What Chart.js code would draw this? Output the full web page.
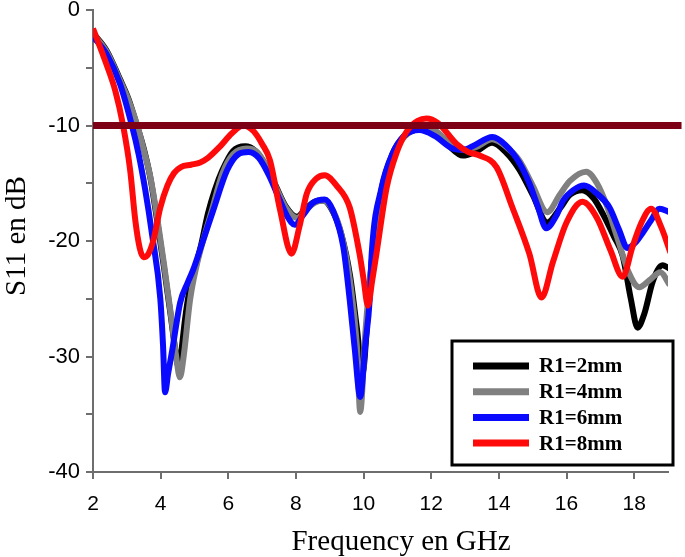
<!DOCTYPE html>
<html>
<head>
<meta charset="utf-8">
<script src="https://cdn.jsdelivr.net/npm/chart.js@4.4.1/dist/chart.umd.min.js"></script>
<style>
  html, body { margin: 0; padding: 0; background: #ffffff; }
  #wrap { width: 685px; height: 557px; }
</style>
</head>
<body>
<div id="wrap"><canvas id="c" width="685" height="557"></canvas></div>
<script>
// ---- Data ----
const seriesLabels = ['R1=2mm', 'R1=4mm', 'R1=6mm', 'R1=8mm'];

const freqR2 = [2.0, 2.4, 2.8, 3.05, 3.3, 3.5, 3.7, 3.9, 4.1, 4.3, 4.45, 4.52, 4.6, 4.72, 4.85, 5.02, 5.2, 5.4, 5.6, 5.82, 6.14, 6.5, 6.8, 7.1, 7.4, 7.7, 8.03, 8.3, 8.55, 8.8, 9.1, 9.35, 9.6, 9.8, 9.97, 10.12, 10.25, 10.5, 10.85, 11.2, 11.5, 11.75, 12.1, 12.5, 12.93, 13.3, 13.8, 14.2, 14.6, 15.0, 15.43, 15.8, 16.1, 16.46, 16.8, 17.1, 17.4, 17.66, 17.9, 18.1, 18.3, 18.55, 18.84, 19.05];
const s11R2  = [-2.0, -3.5, -6.0, -7.7, -10.0, -12.0, -14.6, -18.3, -22.3, -26.5, -29.8, -30.8, -29.8, -26.8, -24.3, -22.4, -20.3, -17.6, -15.6, -13.9, -12.2, -11.8, -12.2, -13.4, -15.2, -17.0, -17.9, -17.2, -16.6, -16.5, -17.5, -19.5, -23.0, -27.5, -31.4, -26.5, -21.5, -16.0, -12.5, -10.9, -10.4, -10.2, -10.6, -11.7, -12.6, -12.3, -11.5, -12.3, -13.8, -16.0, -18.4, -17.2, -16.0, -15.6, -16.3, -17.8, -19.6, -21.3, -25.0, -27.5, -26.3, -23.5, -22.1, -22.4];

const freqR4 = [2.0, 2.4, 2.8, 3.05, 3.32, 3.5, 3.7, 3.9, 4.1, 4.3, 4.45, 4.57, 4.68, 4.87, 5.05, 5.3, 5.5, 5.82, 6.14, 6.55, 6.85, 7.1, 7.4, 7.7, 8.03, 8.3, 8.55, 8.8, 9.1, 9.35, 9.6, 9.8, 9.9, 10.05, 10.25, 10.5, 10.85, 11.2, 11.5, 11.75, 12.1, 12.5, 12.9, 13.3, 13.8, 14.2, 14.6, 15.0, 15.43, 15.8, 16.1, 16.58, 16.9, 17.2, 17.5, 17.85, 18.15, 18.45, 18.77, 19.05];
const s11R4  = [-2.1, -3.6, -6.1, -7.8, -10.1, -12.1, -14.5, -18.0, -22.0, -26.3, -29.8, -31.8, -30.0, -25.1, -22.3, -19.5, -17.5, -14.2, -12.5, -12.0, -12.3, -13.4, -15.3, -17.1, -18.0, -17.3, -16.7, -16.5, -17.4, -19.5, -23.5, -29.0, -34.8, -28.0, -21.5, -16.0, -12.6, -11.0, -10.3, -10.0, -10.4, -11.4, -12.1, -11.9, -11.2, -11.8, -13.0, -15.2, -17.5, -16.0, -14.8, -14.0, -15.0, -17.0, -19.7, -22.8, -24.0, -23.4, -22.7, -23.8];

const freqR6 = [2.0, 2.4, 2.8, 3.15, 3.35, 3.54, 3.75, 3.99, 4.07, 4.13, 4.22, 4.34, 4.58, 4.8, 4.96, 5.25, 5.56, 5.96, 6.29, 6.6, 6.9, 7.2, 7.5, 7.75, 7.97, 8.2, 8.5, 8.85, 9.1, 9.4, 9.59, 9.74, 9.9, 10.05, 10.18, 10.24, 10.53, 10.86, 11.2, 11.65, 12.1, 12.64, 12.95, 13.22, 13.81, 14.2, 14.6, 14.9, 15.15, 15.4, 15.7, 15.9, 16.2, 16.52, 16.9, 17.27, 17.55, 17.8, 18.05, 18.25, 18.5, 18.75, 19.05];
const s11R6  = [-2.3, -3.8, -6.4, -10.0, -12.5, -15.5, -19.5, -25.0, -29.0, -33.1, -31.5, -29.5, -25.3, -23.6, -22.5, -20.0, -17.3, -13.9, -12.5, -12.3, -12.8, -14.3, -16.3, -17.9, -18.6, -17.8, -16.7, -16.4, -17.4, -20.5, -25.1, -29.4, -33.5, -29.0, -25.1, -21.1, -15.4, -12.4, -10.9, -10.4, -10.9, -12.0, -12.1, -11.8, -11.0, -11.7, -13.2, -15.0, -17.0, -18.9, -17.8, -16.5, -15.6, -15.2, -15.9, -17.1, -19.0, -20.6, -20.1, -19.3, -18.2, -17.2, -17.5];

const freqR8 = [2.0, 2.36, 2.66, 2.89, 3.1, 3.25, 3.38, 3.49, 3.62, 3.78, 3.99, 4.2, 4.4, 4.6, 4.9, 5.17, 5.4, 5.76, 6.1, 6.44, 6.75, 7.0, 7.23, 7.53, 7.87, 8.1, 8.32, 8.6, 8.85, 9.2, 9.59, 9.88, 10.0, 10.13, 10.25, 10.38, 10.68, 10.97, 11.3, 11.6, 11.86, 12.2, 12.75, 13.1, 13.43, 13.93, 14.4, 14.9, 15.26, 15.6, 16.0, 16.47, 16.9, 17.3, 17.66, 17.95, 18.2, 18.5, 18.8, 19.07];
const s11R8  = [-1.6, -4.4, -7.0, -10.0, -13.9, -18.2, -20.6, -21.4, -21.2, -20.0, -17.1, -15.2, -14.1, -13.6, -13.4, -13.2, -12.8, -11.8, -10.7, -10.0, -10.5, -11.6, -13.0, -17.3, -21.1, -18.8, -15.9, -14.6, -14.3, -15.2, -17.1, -21.1, -23.3, -25.6, -23.5, -21.1, -15.4, -12.4, -10.4, -9.6, -9.4, -9.8, -11.6, -12.3, -12.6, -13.6, -17.1, -21.1, -24.9, -21.8, -18.4, -16.6, -18.0, -20.8, -23.1, -20.5, -18.5, -17.2, -18.8, -21.0];

const thresholdFreq = [2, 19.4];
const thresholdS11 = [-10, -10];

const xTickValues = [2, 4, 6, 8, 10, 12, 14, 16, 18];
const yTickValues = [-40, -35, -30, -25, -20, -15, -10, -5, 0];
const yLabelValues = [0, -10, -20, -30, -40];

const xTitle = 'Frequency en GHz';
const yTitle = 'S11 en dB';

// ---- Build chart ----
const pts = (xs, ys) => xs.map((x, i) => ({ x: x, y: ys[i] }));
const colors = ['#000000', '#808080', '#0a0aff', '#ff0a0a'];
const serifFont = '"Liberation Serif", "Times New Roman", serif';

function curve(label, xs, ys, color, order) {
  return {
    label: label,
    data: pts(xs, ys),
    borderColor: color,
    backgroundColor: color,
    borderWidth: 6,
    pointRadius: 0,
    cubicInterpolationMode: 'monotone',
    fill: false,
    order: order
  };
}

const titlePlugin = {
  id: 'axisTitles',
  afterDraw(chart) {
    const ctx = chart.ctx;
    ctx.save();
    ctx.fillStyle = '#000000';
    ctx.font = '29px ' + serifFont;
    ctx.textAlign = 'center';
    ctx.textBaseline = 'alphabetic';
    ctx.fillText(xTitle, 401, 550);
    ctx.translate(25, 236);
    ctx.rotate(-Math.PI / 2);
    ctx.fillText(yTitle, 0, 0);
    ctx.restore();
  }
};

const legendPlugin = {
  id: 'boxLegend',
  afterDraw(chart) {
    const ctx = chart.ctx;
    const items = chart.data.datasets.filter(d => seriesLabels.includes(d.label));
    const bx = 452, by = 341, bw = 221, bh = 124;
    ctx.save();
    ctx.fillStyle = '#ffffff';
    ctx.fillRect(bx, by, bw, bh);
    ctx.strokeStyle = '#000000';
    ctx.lineWidth = 3;
    ctx.strokeRect(bx, by, bw, bh);
    ctx.font = 'bold 21px ' + serifFont;
    ctx.textBaseline = 'middle';
    ctx.textAlign = 'left';
    items.forEach((d, i) => {
      const y = 366 + i * 25.7;
      ctx.strokeStyle = d.borderColor;
      ctx.lineWidth = 7;
      ctx.lineCap = 'butt';
      ctx.beginPath();
      ctx.moveTo(473, y);
      ctx.lineTo(529, y);
      ctx.stroke();
      ctx.fillStyle = '#000000';
      ctx.fillText(d.label, 539, y + 1);
    });
    ctx.restore();
  }
};

const chart = new Chart(document.getElementById('c'), {
  type: 'line',
  data: {
    datasets: [
      curve(seriesLabels[0], freqR2, s11R2, colors[0], 4),
      curve(seriesLabels[1], freqR4, s11R4, colors[1], 3),
      curve(seriesLabels[2], freqR6, s11R6, colors[2], 2),
      curve(seriesLabels[3], freqR8, s11R8, colors[3], 1),
      {
        label: '-10 dB',
        data: pts(thresholdFreq, thresholdS11),
        borderColor: '#7d0014',
        borderWidth: 7,
        pointRadius: 0,
        fill: false,
        clip: false,
        order: 0
      }
    ]
  },
  options: {
    responsive: false,
    devicePixelRatio: 1,
    animation: false,
    layout: { padding: { top: 10, right: 17, left: 0, bottom: 0 } },
    plugins: { legend: { display: false }, tooltip: { enabled: false } },
    scales: {
      x: {
        type: 'linear',
        min: 2,
        max: 19,
        afterBuildTicks: s => { s.ticks = xTickValues.map(v => ({ value: v })); },
        afterFit: s => { s.height = 85; s.paddingLeft = 0; s.paddingRight = 0; },
        grid: { drawOnChartArea: false, drawTicks: true, tickLength: 7, color: '#6e6e6e', lineWidth: 2 },
        border: { display: true, color: '#6e6e6e', width: 2 },
        ticks: {
          color: '#000000',
          padding: 13,
          maxRotation: 0,
          autoSkip: false,
          font: { family: '"Liberation Sans", Arial, sans-serif', size: 21 }
        },
        title: { display: false, text: xTitle }
      },
      y: {
        type: 'linear',
        min: -40,
        max: 0,
        afterBuildTicks: s => { s.ticks = yTickValues.map(v => ({ value: v })); },
        afterFit: s => { s.width = 93; s.paddingTop = 0; s.paddingBottom = 0; },
        grid: { drawOnChartArea: false, drawTicks: true, tickLength: 7, color: '#6e6e6e', lineWidth: 2 },
        border: { display: true, color: '#6e6e6e', width: 2 },
        ticks: {
          color: '#000000',
          padding: 6,
          autoSkip: false,
          font: { family: '"Liberation Sans", Arial, sans-serif', size: 22 },
          callback: v => (yLabelValues.includes(v) ? String(v) : '')
        },
        title: { display: false, text: yTitle }
      }
    }
  },
  plugins: [legendPlugin, titlePlugin]
});
</script>
</body>
</html>
